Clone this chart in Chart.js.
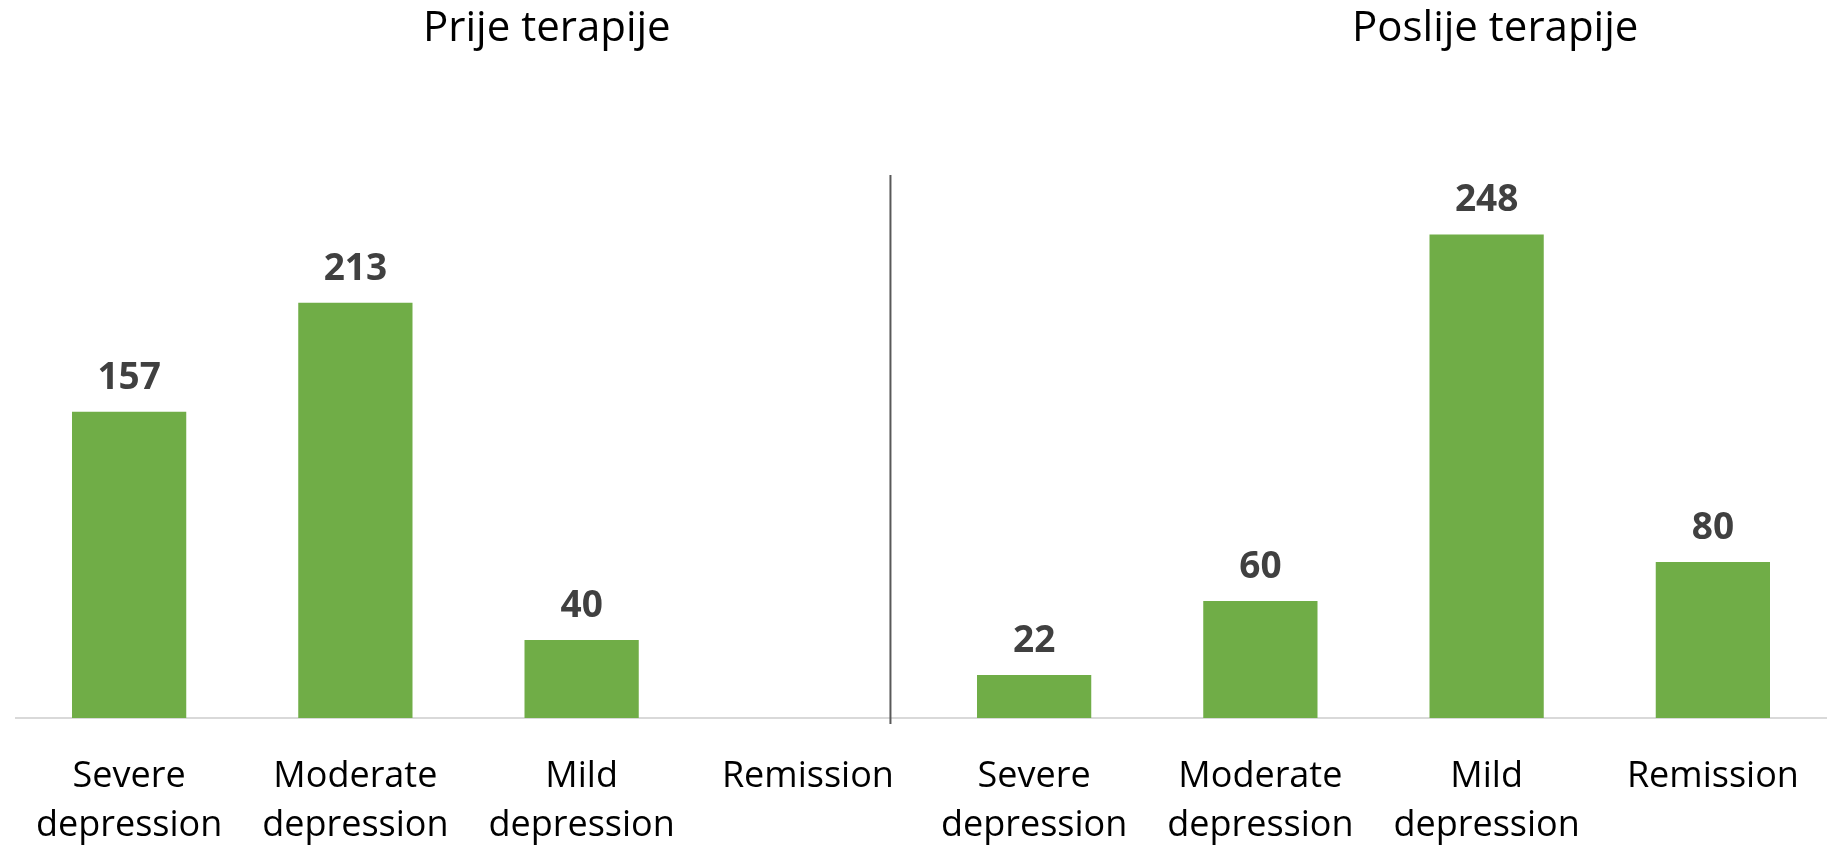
<!DOCTYPE html>
<html>
<head>
<meta charset="utf-8">
<script src="https://cdn.jsdelivr.net/npm/chart.js@4.4.1/dist/chart.umd.min.js"></script>
<style>
  html, body { margin: 0; padding: 0; background: #fff; }
  #charts { width: 1829px; height: 846px; }
</style>
</head>
<body>
<div id="charts"><canvas class="therapy-chart"></canvas></div>
<script>
const groups = ["Prije terapije", "Poslije terapije"];
const categories = [["Severe", "depression"], ["Moderate", "depression"], ["Mild", "depression"], ["Remission"]];
const before = [157, 213, 40, null];
const after = [22, 60, 248, 80];

// group titles + separator line between the two groups
const groupPlugin = {
    id: "groups",
    afterDraw: (chart) => {
        const ctx = chart.ctx;
        const x = chart.scales.x;
        const area = chart.chartArea;
        const step = x.getPixelForValue(1) - x.getPixelForValue(0);
        const sepX = x.getPixelForValue(3.5) - step * 0.135;

        ctx.save();
        ctx.strokeStyle = "#595959";
        ctx.lineWidth = 2;
        ctx.beginPath();
        ctx.moveTo(sepX, area.top + 3);
        ctx.lineTo(sepX, area.bottom + 6);
        ctx.stroke();

        ctx.fillStyle = "#000";
        ctx.font = "42px 'Open Sans'";
        ctx.textAlign = "center";
        ctx.textBaseline = "alphabetic";
        ctx.fillText(groups[0], chart.width * 0.299, 41);
        ctx.fillText(groups[1], chart.width * 0.8175, 41);
        ctx.restore();
    }
};

// value labels above the bars
const valuePlugin = {
    id: "values",
    afterDatasetsDraw: (chart) => {
        const ctx = chart.ctx;
        const meta = chart.getDatasetMeta(0);
        const values = chart.data.datasets[0].data;
        ctx.save();
        ctx.fillStyle = "#404040";
        ctx.font = "bold 37px 'Open Sans'";
        ctx.textAlign = "center";
        ctx.textBaseline = "alphabetic";
        meta.data.forEach((bar, i) => {
            if (values[i] === null || values[i] === undefined) return;
            ctx.fillText(values[i], bar.x, bar.y - 23);
        });
        ctx.restore();
    }
};

const showChart = () => {
    const canvas = document.querySelector(".therapy-chart");

    new Chart(canvas, {
        type: "bar",
        data: {
            labels: categories.concat(categories),
            datasets: [
                {
                    label: "Patients",
                    data: before.concat(after),
                    backgroundColor: "#70ad47",
                    categoryPercentage: 1,
                    barPercentage: 0.505
                },
            ],
        },
        options: {
            responsive: true,
            maintainAspectRatio: false,
            animation: false,
            layout: {
                padding: { top: 172, left: 16, right: 3, bottom: 0 }
            },
            scales: {
                x: {
                    grid: { display: false, drawTicks: true, tickLength: 29 },
                    border: { display: true, color: "#d9d9d9", width: 2 },
                    ticks: {
                        color: "#000",
                        font: { family: "'Open Sans'", size: 36, lineHeight: 1.36 },
                        padding: 5,
                        maxRotation: 0,
                        autoSkip: false
                    },
                    afterFit: (scale) => { scale.height = 128; }
                },
                y: {
                    display: false,
                    min: 0,
                    max: 280
                }
            },
            plugins: {
                legend: { display: false },
                tooltip: { enabled: false }
            }
        },
        plugins: [groupPlugin, valuePlugin]
    });
};

showChart();
</script>
</body>
</html>
